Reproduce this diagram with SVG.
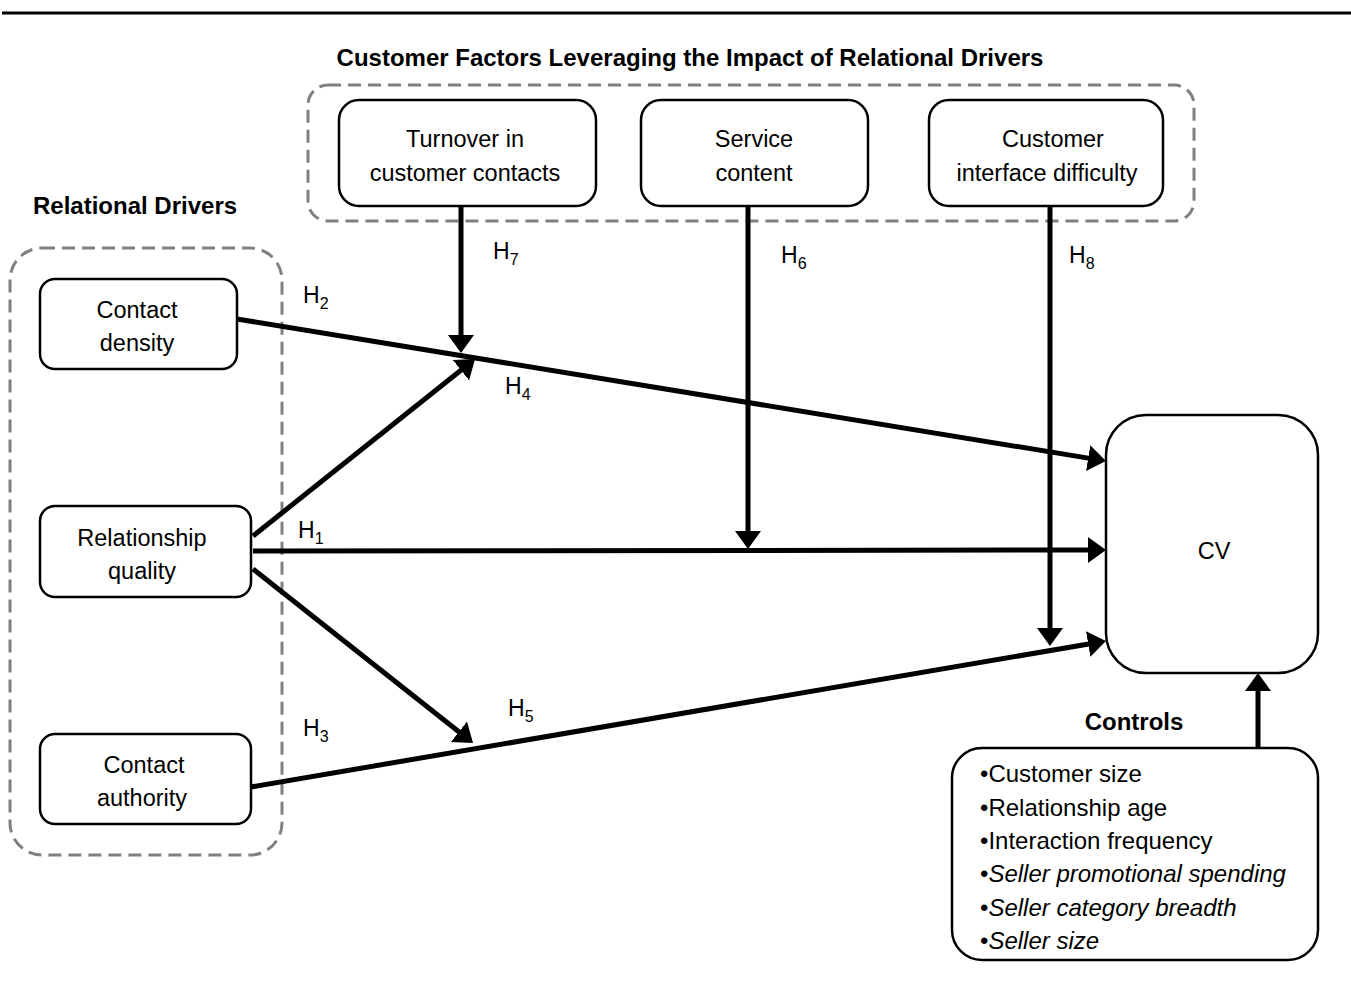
<svg xmlns="http://www.w3.org/2000/svg" width="1351" height="990" viewBox="0 0 1351 990">
<defs>
<style>
text{font-family:"Liberation Sans",Arial,sans-serif;font-size:23.5px;fill:#000}
.b{font-weight:bold;font-size:24px}
.c{text-anchor:middle}
.i{font-style:italic}
.l{font-size:24px}
.h{font-size:23px}
.s{font-size:16px}
.node{fill:#fff;stroke:#000;stroke-width:2.5}
.grp{fill:none;stroke:#808080;stroke-width:3;stroke-dasharray:13 7}
.arr{fill:none;stroke:#000;stroke-width:5;marker-end:url(#ah)}
</style>
<marker id="ah" markerUnits="userSpaceOnUse" markerWidth="19" markerHeight="27" refX="14" refY="13" orient="auto" viewBox="0 0 19 26">
<path d="M0,0 L18,13 L0,26 z" fill="#000"/>
</marker>
</defs>
<rect width="1351" height="990" fill="#fff"/>
<line x1="2" y1="13" x2="1351" y2="13" stroke="#000" stroke-width="3"/>

<g id="group-customer-factors">
<rect class="grp" x="308" y="85" width="886" height="136" rx="20"/>
<text class="b c" x="690" y="66">Customer Factors Leveraging the Impact of Relational Drivers</text>
</g>
<g id="group-relational-drivers">
<rect class="grp" x="10" y="248" width="272" height="607" rx="32"/>
<text class="b" x="33" y="214">Relational Drivers</text>
</g>

<g id="connectors">
<line class="arr" x1="461" y1="206" x2="461" y2="349"/>
<line class="arr" x1="748" y1="206" x2="748" y2="545"/>
<line class="arr" x1="1050" y1="206" x2="1050" y2="642"/>
<line class="arr" x1="237" y1="319" x2="1102" y2="460.4"/>
<line class="arr" x1="253" y1="536" x2="471.9" y2="361.5"/>
<line class="arr" x1="253" y1="551" x2="1102" y2="550"/>
<line class="arr" x1="253" y1="569" x2="469.9" y2="740.5"/>
<line class="arr" x1="251" y1="787" x2="1102" y2="641.7"/>
<line class="arr" x1="1258" y1="748" x2="1258" y2="677"/>
</g>

<g id="labels">
<text class="h" x="303" y="303">H<tspan class="s" dy="6">2</tspan></text>
<text class="h" x="493" y="259">H<tspan class="s" dy="6">7</tspan></text>
<text class="h" x="781" y="263">H<tspan class="s" dy="6">6</tspan></text>
<text class="h" x="1069" y="263">H<tspan class="s" dy="6">8</tspan></text>
<text class="h" x="505" y="394">H<tspan class="s" dy="6">4</tspan></text>
<text class="h" x="298" y="538">H<tspan class="s" dy="6">1</tspan></text>
<text class="h" x="303" y="736">H<tspan class="s" dy="6">3</tspan></text>
<text class="h" x="508" y="716">H<tspan class="s" dy="6">5</tspan></text>
</g>

<g id="node-turnover">
<rect class="node" x="339" y="100" width="257" height="106" rx="20"/>
<text class="c" x="465" y="147">Turnover in</text>
<text class="c" x="465" y="181">customer contacts</text>
</g>
<g id="node-service">
<rect class="node" x="641" y="100" width="227" height="106" rx="20"/>
<text class="c" x="754" y="147">Service</text>
<text class="c" x="754" y="181">content</text>
</g>
<g id="node-interface">
<rect class="node" x="929" y="100" width="234" height="106" rx="20"/>
<text class="c" x="1053" y="147">Customer</text>
<text class="c" x="1047" y="181">interface difficulty</text>
</g>
<g id="node-contact-density">
<rect class="node" x="40" y="279" width="197" height="90" rx="15"/>
<text class="c" x="137" y="318">Contact</text>
<text class="c" x="137" y="351">density</text>
</g>
<g id="node-relationship-quality">
<rect class="node" x="40" y="506" width="211" height="91" rx="15"/>
<text class="c" x="142" y="546">Relationship</text>
<text class="c" x="142" y="579">quality</text>
</g>
<g id="node-contact-authority">
<rect class="node" x="40" y="734" width="211" height="90" rx="15"/>
<text class="c" x="144" y="773">Contact</text>
<text class="c" x="142" y="806">authority</text>
</g>
<g id="node-cv">
<rect class="node" x="1106" y="415" width="212" height="258" rx="40"/>
<text class="c" x="1214" y="559">CV</text>
</g>
<g id="node-controls">
<text class="b c" x="1134" y="730">Controls</text>
<rect class="node" x="952" y="748" width="366" height="212" rx="30"/>
<text class="l" x="980" y="782">•Customer size</text>
<text class="l" x="980" y="815.5">•Relationship age</text>
<text class="l" x="980" y="849">•Interaction frequency</text>
<text class="l" x="980" y="882">•<tspan class="i">Seller promotional spending</tspan></text>
<text class="l" x="980" y="916">•<tspan class="i">Seller category breadth</tspan></text>
<text class="l" x="980" y="949">•<tspan class="i">Seller size</tspan></text>
</g>
</svg>
